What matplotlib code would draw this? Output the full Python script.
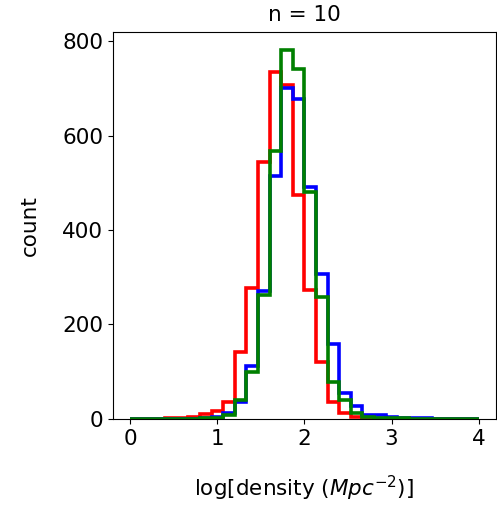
import numpy as np
import matplotlib
matplotlib.use("Agg")
import matplotlib.pyplot as plt

# histogram counts, 30 bins between 0 and 4
edges = np.linspace(0, 4, 31)
red_counts = [0, 0, 0, 1, 2, 5, 10, 16, 36, 142, 277, 544, 735, 706, 474,
              273, 120, 36, 12, 3, 1, 0, 0, 0, 0, 0, 0, 0, 0, 0]
blue_counts = [0, 0, 0, 0, 0, 0, 1, 3, 13, 35, 113, 271, 515, 700, 677,
               490, 307, 159, 55, 27, 8, 8, 4, 2, 1, 1, 0, 0, 0, 0]
green_counts = [0, 0, 0, 0, 0, 0, 1, 2, 8, 41, 99, 263, 568, 780, 740,
                481, 258, 79, 40, 12, 3, 2, 1, 1, 0, 0, 0, 0, 0, 0]

fig = plt.figure(figsize=(4.97, 5.09), dpi=100)
ax = fig.add_axes([0.227, 0.177, 0.771, 0.76])

for counts, col in [(red_counts, "red"), (blue_counts, "blue"), (green_counts, "green")]:
    ax.stairs(counts, edges, baseline=0, color=col, linewidth=2.6)

ax.set_xlim(-0.2, 4.2)
ax.set_ylim(0, 819)
ax.set_xticks([0, 1, 2, 3, 4])
ax.set_yticks([0, 200, 400, 600, 800])
ax.tick_params(labelsize=15.5)
ax.set_title("n = 10", fontsize=15.5, pad=8)
ax.set_xlabel(r"log[density ($Mpc^{-2}$)]", fontsize=15.5, labelpad=18)
ax.set_ylabel("count", fontsize=15.5, labelpad=16)

fig.savefig("out.png", dpi=100)
